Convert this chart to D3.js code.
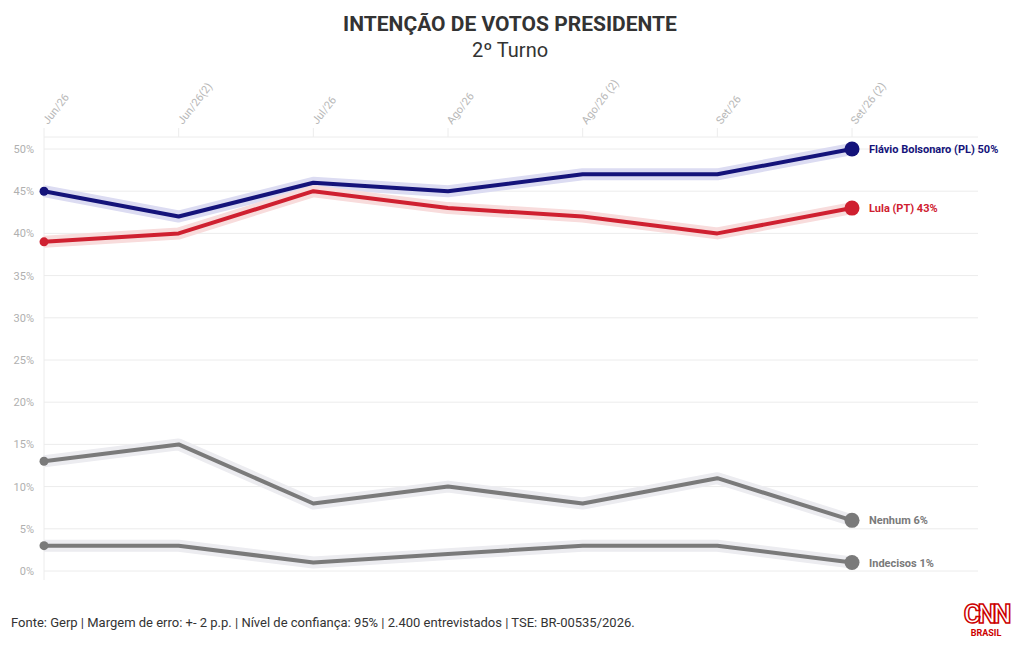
<!DOCTYPE html>
<html><head><meta charset="utf-8">
<script src="https://cdn.jsdelivr.net/npm/d3@7"></script>
<style>body{margin:0;background:#fff}</style>
</head><body>
<script>
// Data
const DATES = ['Jun/26', 'Jun/26(2)', 'Jul/26', 'Ago/26', 'Ago/26 (2)', 'Set/26', 'Set/26 (2)'];
const NAMES = ['Flávio Bolsonaro (PL)', 'Lula (PT)', 'Nenhum', 'Indecisos'];
const COLORS = ['#14137a', '#cf2030', '#7a7a7a', '#7a7a7a'];
const HALOS = ['#dcdcf2', '#f8dcdc', '#ececf0', '#ececf0'];
const FLAVIO = [45, 42, 46, 45, 47, 47, 50];
const LULA = [39, 40, 45, 43, 42, 40, 43];
const NENHUM = [13, 15, 8, 10, 8, 11, 6];
const INDECISOS = [3, 3, 1, 2, 3, 3, 1];
const Y_TICKS = [0, 5, 10, 15, 20, 25, 30, 35, 40, 45, 50];
const SERIES = [FLAVIO, LULA, NENHUM, INDECISOS];

const W = 1020, H = 650;
const FONT = "'Liberation Sans Narrow', 'Roboto', sans-serif";

const svg = d3.select('body').append('svg').attr('width', W).attr('height', H);

const x = d3.scalePoint().domain(DATES).range([44, 852]);
const y = d3.scaleLinear().domain([0, 50]).range([571, 149]);

// Grid
svg.append('g').selectAll('line').data(Y_TICKS).join('line')
  .attr('x1', 44).attr('x2', 978)
  .attr('y1', d => y(d)).attr('y2', d => y(d))
  .attr('stroke', '#ececec');
svg.append('line').attr('x1', 44).attr('x2', 978).attr('y1', 137).attr('y2', 137).attr('stroke', '#ececec');
svg.append('g').selectAll('line').data(DATES).join('line')
  .attr('x1', d => x(d)).attr('x2', d => x(d))
  .attr('y1', 128).attr('y2', d => d === DATES[0] ? 580 : 137)
  .attr('stroke', '#ececec');

svg.append('g').selectAll('text').data(DATES).join('text')
  .attr('transform', d => `translate(${x(d) + 4},${125}) rotate(-52)`)
  .attr('font-family', FONT).attr('font-size', 11).attr('fill', '#b8b8b8')
  .text(d => d);

svg.append('g').selectAll('text').data(Y_TICKS).join('text')
  .attr('x', 34).attr('y', d => y(d) + 4)
  .attr('text-anchor', 'end')
  .attr('font-family', FONT).attr('font-size', 11).attr('fill', '#b0b0b0')
  .text(d => d + '%');

// Lines
const line = d3.line().x((d, i) => x(DATES[i])).y(d => y(d));
SERIES.forEach((s, k) => {
  svg.append('path').attr('d', line(s)).attr('fill', 'none')
    .attr('stroke', HALOS[k]).attr('stroke-width', 12).attr('stroke-linejoin', 'round');
});
SERIES.forEach((s, k) => {
  const g = svg.append('g');
  g.append('path').attr('d', line(s)).attr('fill', 'none')
    .attr('stroke', COLORS[k]).attr('stroke-width', 4).attr('stroke-linejoin', 'round');
  g.append('circle').attr('cx', x(DATES[0])).attr('cy', y(s[0])).attr('r', 4.5).attr('fill', COLORS[k]);
  const last = s[s.length - 1];
  g.append('circle').attr('cx', x(DATES[6])).attr('cy', y(last)).attr('r', 7.5).attr('fill', COLORS[k]);
  g.append('text').attr('x', x(DATES[6]) + 17).attr('y', y(last) + 4)
    .attr('font-family', FONT).attr('font-size', 11).attr('font-weight', 'bold')
    .attr('fill', COLORS[k]).text(`${NAMES[k]} ${last}%`);
});

// Titles
svg.append('text').attr('x', 510).attr('y', 31).attr('text-anchor', 'middle')
  .attr('font-family', FONT).attr('font-size', 21).attr('font-weight', 'bold').attr('fill', '#333')
  .text('INTENÇÃO DE VOTOS PRESIDENTE');
svg.append('text').attr('x', 510).attr('y', 57).attr('text-anchor', 'middle')
  .attr('font-family', FONT).attr('font-size', 20).attr('fill', '#333')
  .text('2º Turno');

svg.append('text').attr('x', 11).attr('y', 627)
  .attr('font-family', FONT).attr('font-size', 13).attr('fill', '#333')
  .text('Fonte: Gerp | Margem de erro: +- 2 p.p. | Nível de confiança: 95% | 2.400 entrevistados | TSE: BR-00535/2026.');

// Logo
svg.append('text').attr('x', 986).attr('y', 623).attr('text-anchor', 'middle')
  .attr('font-family', FONT).attr('font-size', 26).attr('font-weight', 'bold')
  .attr('fill', 'none').attr('stroke', '#cc0000').attr('stroke-width', 1.5).attr('letter-spacing', -3)
  .text('CNN');
svg.append('text').attr('x', 986).attr('y', 636).attr('text-anchor', 'middle')
  .attr('font-family', FONT).attr('font-size', 9).attr('font-weight', 'bold').attr('fill', '#cc0000')
  .text('BRASIL');
</script>
</body></html>
